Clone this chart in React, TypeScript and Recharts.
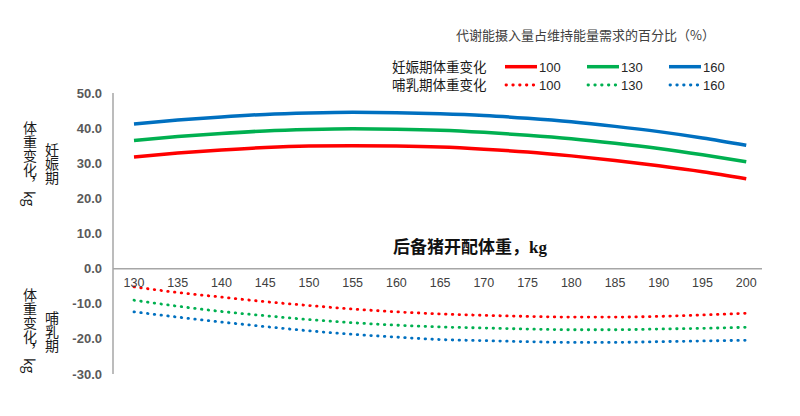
import { LineChart, Line, XAxis, YAxis, ReferenceLine } from "recharts";

// 后备猪开配体重 (kg)
const weights = [130, 135, 140, 145, 150, 155, 160, 165, 170, 175, 180, 185, 190, 195, 200];

// 妊娠期体重变化 (kg), by ME intake as % of maintenance
const gest100 = [31.8, 32.9, 33.8, 34.5, 34.9, 35.0, 34.9, 34.6, 34.0, 33.2, 32.1, 30.8, 29.3, 27.6, 25.6];
const gest130 = [36.5, 37.6, 38.5, 39.2, 39.6, 39.8, 39.7, 39.4, 38.8, 38.0, 37.0, 35.7, 34.2, 32.4, 30.4];
const gest160 = [41.2, 42.3, 43.2, 43.9, 44.3, 44.5, 44.4, 44.1, 43.6, 42.8, 41.8, 40.5, 39.0, 37.2, 35.1];

// 哺乳期体重变化 (kg)
const lact100 = [-5.2, -6.8, -8.1, -9.4, -10.5, -11.5, -12.3, -12.9, -13.3, -13.6, -13.8, -13.8, -13.6, -13.2, -12.7];
const lact130 = [-9.0, -10.7, -12.2, -13.4, -14.5, -15.4, -16.1, -16.6, -16.9, -17.2, -17.4, -17.4, -17.2, -17.0, -16.7];
const lact160 = [-12.3, -13.8, -15.2, -16.5, -17.7, -18.7, -19.5, -20.2, -20.5, -20.8, -21.0, -21.0, -20.8, -20.6, -20.4];

const yTicks = [-30, -20, -10, 0, 10, 20, 30, 40, 50];
const levels = ["100", "130", "160"];

const RED = "#ff0000";
const GREEN = "#00b050";
const BLUE = "#0070c0";
const colors = [RED, GREEN, BLUE];

const data = weights.map((w, i) => ({
  w,
  g100: gest100[i],
  g130: gest130[i],
  g160: gest160[i],
  l100: lact100[i],
  l130: lact130[i],
  l160: lact160[i],
}));

const W = 800;
const H = 416;
const X_AXIS_H = 20;
const margin = { top: 93, right: 38, bottom: 42 - X_AXIS_H, left: 0 };
const plotH = H - margin.top - margin.bottom - X_AXIS_H;
const Y_MIN = -30;
const Y_MAX = 50;
// distance from the bottom of the plot up to the zero line
const zeroLift = (plotH * (0 - Y_MIN)) / (Y_MAX - Y_MIN);

const cjk = "'Noto Sans CJK SC', 'Noto Sans', sans-serif";
const DOT = "0.5 6.3";

// x tick labels sit just under the zero line instead of the plot bottom
const XTick = (props: any) => {
  const { x, y, payload } = props;
  return (
    <text
      x={x}
      y={y - zeroLift + 18}
      textAnchor="middle"
      fontSize={12.5}
      fill="#404040"
      fontFamily="'Liberation Sans', Arial, sans-serif"
    >
      {payload.value}
    </text>
  );
};

const vertical: React.CSSProperties = {
  position: "absolute",
  writingMode: "vertical-rl",
  fontFamily: cjk,
  fontSize: 14,
  lineHeight: "14px",
  color: "#1a1a1a",
  whiteSpace: "nowrap",
};

export default function App() {
  return (
    <div
      style={{
        position: "absolute",
        left: 0,
        top: 0,
        width: W,
        height: H,
        background: "#fff",
        overflow: "hidden",
      }}
    >
      <LineChart width={W} height={H} data={data} margin={margin}>
        <XAxis
          dataKey="w"
          type="number"
          domain={[127.6, 201.8]}
          ticks={weights}
          interval={0}
          allowDataOverflow
          height={X_AXIS_H}
          axisLine={false}
          tickLine={false}
          tickSize={0}
          tickMargin={0}
          tick={XTick}
        />
        <YAxis
          domain={[Y_MIN, Y_MAX]}
          ticks={yTicks}
          interval={0}
          width={113}
          axisLine={{ stroke: "#a6a6a6", strokeWidth: 1.5 }}
          tickLine={false}
          tickSize={0}
          tickMargin={11}
          tickFormatter={(v: number) => v.toFixed(1)}
          tick={{ fontSize: 13, fill: "#595959", fontWeight: 700, fontFamily: "'Liberation Sans', Arial, sans-serif" }}
        />
        <ReferenceLine y={0} stroke="#a6a6a6" strokeWidth={1.5} />
        <Line type="monotone" dataKey="g100" stroke={RED} strokeWidth={3.5} dot={false} isAnimationActive={false} />
        <Line type="monotone" dataKey="g130" stroke={GREEN} strokeWidth={3.5} dot={false} isAnimationActive={false} />
        <Line type="monotone" dataKey="g160" stroke={BLUE} strokeWidth={3.5} dot={false} isAnimationActive={false} />
        <Line type="monotone" dataKey="l100" stroke={RED} strokeWidth={2.8} strokeDasharray={DOT} strokeLinecap="round" dot={false} isAnimationActive={false} />
        <Line type="monotone" dataKey="l130" stroke={GREEN} strokeWidth={2.8} strokeDasharray={DOT} strokeLinecap="round" dot={false} isAnimationActive={false} />
        <Line type="monotone" dataKey="l160" stroke={BLUE} strokeWidth={2.8} strokeDasharray={DOT} strokeLinecap="round" dot={false} isAnimationActive={false} />
      </LineChart>

      {/* legend + titles */}
      <svg width={W} height={H} style={{ position: "absolute", left: 0, top: 0, pointerEvents: "none" }}>
        <text x={456} y={40} fontSize={13} fill="#404040" fontFamily={cjk}>
          代谢能摄入量占维持能量需求的百分比（%）
        </text>
        <text x={392} y={71.5} fontSize={13.5} fill="#1a1a1a" fontFamily={cjk}>妊娠期体重变化</text>
        <text x={392} y={90} fontSize={13.5} fill="#1a1a1a" fontFamily={cjk}>哺乳期体重变化</text>
        {levels.map((lv, i) => {
          const x0 = 505 + i * 82;
          return (
            <g key={lv}>
              <line x1={x0} x2={x0 + 32} y1={66.7} y2={66.7} stroke={colors[i]} strokeWidth={3.5} />
              <line x1={x0 + 1} x2={x0 + 31} y1={85} y2={85} stroke={colors[i]} strokeWidth={2.8} strokeDasharray={DOT} strokeLinecap="round" />
              <text x={x0 + 34} y={71.5} fontSize={13} fill="#262626" fontFamily="'Liberation Sans', Arial, sans-serif">{lv}</text>
              <text x={x0 + 34} y={90} fontSize={13} fill="#262626" fontFamily="'Liberation Sans', Arial, sans-serif">{lv}</text>
            </g>
          );
        })}
        <text x={393} y={253} fontSize={17} fontWeight={700} fill="#111" fontFamily={"'Liberation Serif', " + cjk}>
          后备猪开配体重，kg
        </text>
      </svg>

      <div style={{ ...vertical, left: 23, top: 121 }}>体重变化，kg</div>
      <div style={{ ...vertical, left: 45, top: 143 }}>妊娠期</div>
      <div style={{ ...vertical, left: 23, top: 288 }}>体重变化，kg</div>
      <div style={{ ...vertical, left: 45, top: 311 }}>哺乳期</div>
    </div>
  );
}
